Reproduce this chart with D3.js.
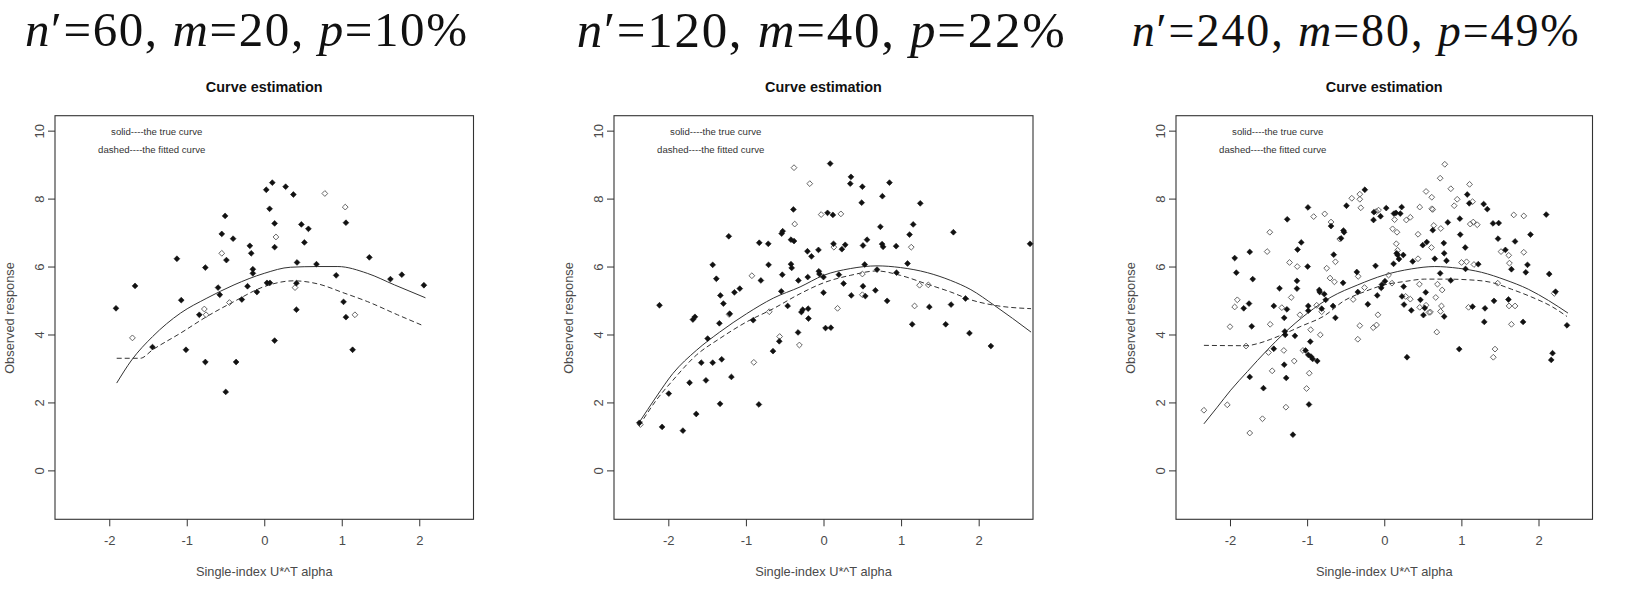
<!DOCTYPE html>
<html><head><meta charset="utf-8">
<script src="https://cdn.jsdelivr.net/npm/d3@7"></script>
<style>
html,body{margin:0;padding:0;background:#fff;}
svg{display:block;}
.bigttl{font-family:"Liberation Serif","DejaVu Serif","Noto Serif","Times New Roman",Times,serif;}
.sans{font-family:"Liberation Sans",Arial,Helvetica,sans-serif;}
</style>
</head><body>
<svg id="chart" width="1642" height="597"></svg>
<script>
// ---------------- DATA ----------------
const panelTitles = [
  {n:"60", m:"20", p:"10%"},
  {n:"120", m:"40", p:"22%"},
  {n:"240", m:"80", p:"49%"}
];
const xTicks = [-2, -1, 0, 1, 2];
const yTicks = [0, 2, 4, 6, 8, 10];
const mainTitle = "Curve estimation";
const xLabel = "Single-index U*^T alpha";
const yLabel = "Observed response";
const legendLines = ["solid----the true curve", "dashed----the fitted curve"];

// Panel 1 (n'=60)
const p1Filled = [[-1.913,4.77],[-1.667,5.43],[-1.442,3.63],[-1.127,6.23],[-1.071,5.01],[-1.010,3.55],[-0.838,4.58],[-0.760,5.97],[-0.760,3.19],[-0.596,5.38],[-0.574,5.17],[-0.548,6.96],[-0.505,7.49],[-0.488,6.19],[-0.497,2.31],[-0.402,6.82],[-0.363,3.19],[-0.289,5.03],[-0.216,5.42],[-0.186,6.61],[-0.168,6.39],[-0.147,5.92],[-0.147,5.80],[-0.095,5.25],[0.026,8.26],[0.035,5.52],[0.069,7.70],[0.073,5.52],[0.104,8.47],[0.134,7.27],[0.134,6.57],[0.134,3.82],[0.276,8.35],[0.376,8.12],[0.423,6.12],[0.415,5.51],[0.415,4.73],[0.479,7.24],[0.518,6.71],[0.570,7.11],[0.674,6.07],[0.928,5.74],[1.023,4.96],[1.054,7.29],[1.054,4.51],[1.140,3.55],[1.356,6.27],[1.628,5.63],[1.775,5.76],[2.060,5.45]];
const p1Open = [[-1.701,3.90],[-0.548,6.39],[-0.773,4.75],[-0.751,4.58],[-0.449,4.94],[0.151,6.87],[0.397,5.38],[0.782,8.15],[1.045,7.75],[1.170,4.58]];
const p1True = [[-1.904,2.57],[-1.71,3.25],[-1.44,3.94],[-1.08,4.63],[-0.74,5.07],[-0.39,5.46],[0,5.80],[0.34,5.98],[0.69,6.00],[0.95,6.00],[1.33,5.80],[1.68,5.46],[2.08,5.08]];
const p1Fit = [[-1.904,3.30],[-1.60,3.30],[-1.44,3.55],[-1.08,4.04],[-0.74,4.53],[-0.39,4.97],[0,5.41],[0.38,5.58],[0.69,5.49],[1.03,5.22],[1.33,4.97],[1.72,4.58],[2.06,4.25]];

// Panel 2 (n'=120)
const p2Filled = [[-2.373,1.40],[-2.114,4.86],[-2.080,1.28],[-1.994,2.26],[-1.812,1.17],[-1.726,2.58],[-1.683,4.44],[-1.657,4.52],[-1.640,1.66],[-1.575,3.17],[-1.515,2.65],[-1.493,3.88],[-1.428,6.05],[-1.428,3.17],[-1.381,5.64],[-1.342,4.33],[-1.329,5.15],[-1.333,1.96],[-1.312,3.27],[-1.290,4.91],[-1.221,6.89],[-1.208,4.61],[-1.187,2.75],[-1.148,5.24],[-1.079,5.35],[-0.906,4.42],[-0.828,6.70],[-0.833,1.94],[-0.807,5.59],[-0.712,6.67],[-0.708,6.05],[-0.651,3.51],[-0.570,3.80],[-0.539,6.97],[-0.526,7.04],[-0.531,5.76],[-0.544,5.27],[-0.462,4.84],[-0.419,6.79],[-0.419,6.07],[-0.410,5.96],[-0.388,7.68],[-0.380,6.75],[-0.328,4.06],[-0.324,5.59],[-0.285,4.66],[-0.268,4.73],[-0.207,6.45],[-0.203,5.69],[-0.198,4.76],[-0.194,4.47],[-0.155,6.30],[-0.065,6.49],[-0.060,5.86],[-0.052,5.78],[0.000,5.69],[0.000,5.23],[0.026,4.19],[0.052,7.58],[0.086,9.03],[0.095,4.20],[0.121,7.52],[0.129,6.67],[0.198,5.76],[0.237,6.51],[0.259,5.50],[0.280,6.64],[0.354,8.64],[0.345,8.44],[0.358,5.15],[0.492,7.88],[0.501,8.35],[0.509,6.62],[0.509,5.42],[0.531,6.06],[0.539,5.13],[0.561,6.79],[0.669,5.30],[0.690,5.91],[0.733,7.17],[0.755,6.66],[0.759,8.07],[0.768,6.58],[0.820,4.99],[0.850,8.47],[0.936,6.60],[0.941,5.82],[1.083,6.09],[1.109,6.94],[1.143,4.30],[1.156,7.24],[1.247,7.86],[1.364,4.81],[1.575,4.30],[1.644,4.88],[1.674,7.01],[1.830,5.06],[1.881,4.04],[2.157,3.66],[2.662,6.67]];
const p2Open = [[-2.360,1.35],[-1.217,4.59],[-0.923,5.73],[-0.898,3.18],[-0.699,4.67],[-0.565,3.94],[-0.380,8.91],[-0.371,7.25],[-0.311,3.69],[-0.177,8.44],[-0.030,7.53],[0.134,6.57],[0.181,4.77],[0.224,7.55],[0.501,5.78],[0.501,5.17],[1.131,6.57],[1.174,4.84],[1.238,5.45],[1.351,5.46]];
const p2True = [[-2.373,1.42],[-2.157,2.16],[-1.942,2.85],[-1.64,3.53],[-1.338,4.07],[-0.992,4.61],[-0.647,5.07],[-0.302,5.40],[0,5.74],[0.345,5.94],[0.690,6.02],[0.992,5.97],[1.338,5.82],[1.640,5.59],[1.899,5.32],[2.2,4.86],[2.675,4.07]];
const p2Fit = [[-2.373,1.32],[-2.157,2.06],[-1.942,2.65],[-1.64,3.39],[-1.338,3.88],[-0.992,4.37],[-0.647,4.76],[-0.302,5.20],[0,5.52],[0.345,5.74],[0.690,5.87],[0.992,5.74],[1.338,5.48],[1.640,5.25],[1.899,5.02],[2.2,4.86],[2.675,4.76]];

// Panel 3 (n'=240)
const p3Filled = [[-1.939,6.25],[-1.918,5.82],[-1.822,4.77],[-1.753,4.91],[-1.744,6.43],[-1.744,2.75],[-1.718,4.24],[-1.705,5.63],[-1.566,2.42],[-1.432,4.84],[-1.432,3.58],[-1.358,5.36],[-1.297,4.49],[-1.297,3.11],[-1.289,4.09],[-1.284,3.99],[-1.271,2.72],[-1.262,4.74],[-1.258,7.39],[-1.184,1.05],[-1.158,3.96],[-1.132,5.58],[-1.132,5.35],[-1.124,6.50],[-1.076,6.71],[-1.020,3.53],[-0.993,6.00],[-0.989,7.74],[-0.985,4.84],[-0.985,4.70],[-0.985,3.40],[-0.976,1.94],[-0.950,3.35],[-0.959,3.79],[-0.928,3.28],[-0.868,3.22],[-0.842,5.31],[-0.837,5.25],[-0.811,4.76],[-0.777,5.19],[-0.759,5.02],[-0.690,7.19],[-0.664,4.84],[-0.655,6.35],[-0.633,4.49],[-0.560,6.83],[-0.534,5.52],[-0.529,7.06],[-0.521,7.01],[-0.490,7.79],[-0.356,5.84],[-0.343,5.25],[-0.252,8.26],[-0.213,4.89],[-0.139,7.37],[-0.134,7.60],[-0.113,6.02],[-0.091,5.15],[-0.048,7.48],[-0.039,5.37],[-0.030,5.47],[0.009,5.57],[0.026,7.72],[0.121,6.08],[0.126,7.56],[0.152,7.58],[0.161,6.39],[0.173,6.34],[0.191,6.22],[0.208,7.56],[0.226,7.75],[0.230,5.12],[0.247,6.34],[0.252,5.41],[0.256,4.88],[0.295,3.33],[0.351,4.71],[0.369,6.15],[0.469,5.02],[0.499,6.63],[0.508,4.57],[0.525,4.78],[0.538,5.24],[0.551,6.72],[0.629,7.07],[0.655,6.23],[0.725,5.80],[0.777,4.53],[0.772,6.69],[0.777,6.39],[0.807,6.17],[0.824,7.30],[0.863,5.59],[0.972,3.57],[0.980,7.41],[0.985,6.94],[1.050,6.56],[1.054,5.93],[1.076,8.12],[1.102,7.86],[1.145,4.82],[1.219,6.07],[1.289,7.84],[1.297,4.37],[1.306,4.77],[1.336,7.69],[1.410,7.27],[1.423,4.99],[1.475,6.82],[1.484,7.28],[1.571,6.49],[1.610,5.03],[1.649,5.92],[1.696,6.74],[1.800,4.37],[1.835,5.83],[1.857,6.05],[1.896,6.94],[2.100,7.53],[2.139,5.78],[2.165,3.25],[2.182,3.45],[2.221,5.26],[2.369,4.27]];
const p3Open = [[-2.338,1.77],[-2.035,1.93],[-2.000,4.23],[-1.939,4.81],[-1.905,5.02],[-1.792,3.66],[-1.744,1.10],[-1.579,1.52],[-1.518,6.44],[-1.484,7.01],[-1.479,4.30],[-1.501,3.47],[-1.453,2.93],[-1.328,4.79],[-1.302,3.53],[-1.275,1.86],[-1.228,6.12],[-1.206,5.09],[-1.167,3.22],[-1.128,6.00],[-1.093,4.58],[-1.054,3.53],[-1.007,2.41],[-0.972,2.86],[-0.954,4.14],[-0.915,7.47],[-0.876,4.86],[-0.829,3.99],[-0.811,4.67],[-0.772,7.55],[-0.746,5.95],[-0.703,5.66],[-0.690,7.31],[-0.646,5.55],[-0.633,6.14],[-0.577,6.81],[-0.403,5.03],[-0.421,8.01],[-0.343,3.86],[-0.338,5.71],[-0.317,8.13],[-0.317,4.26],[-0.304,7.73],[-0.256,5.38],[-0.317,7.98],[-0.143,4.20],[-0.100,4.28],[-0.082,4.58],[-0.104,7.62],[-0.074,7.66],[0.056,5.75],[0.100,5.51],[0.108,7.11],[0.134,7.38],[0.165,7.01],[0.156,6.67],[0.173,6.48],[0.278,5.12],[0.286,7.37],[0.338,5.04],[0.338,7.45],[0.438,6.95],[0.438,6.23],[0.456,5.48],[0.460,7.75],[0.460,4.80],[0.542,8.21],[0.542,4.86],[0.581,4.65],[0.599,4.66],[0.612,6.56],[0.616,8.04],[0.616,7.70],[0.629,7.68],[0.642,7.21],[0.668,5.09],[0.681,4.07],[0.690,5.48],[0.725,8.60],[0.733,7.12],[0.729,4.68],[0.742,4.84],[0.751,5.31],[0.785,9.01],[0.863,8.29],[0.907,7.79],[0.946,7.98],[1.002,6.12],[1.067,6.14],[1.093,4.80],[1.106,8.42],[1.115,7.25],[1.145,7.91],[1.154,7.31],[1.163,6.06],[1.206,7.23],[1.414,3.33],[1.436,3.57],[1.471,5.51],[1.514,6.44],[1.614,6.33],[1.623,6.10],[1.618,4.84],[1.649,4.30],[1.679,7.52],[1.696,4.84],[1.809,7.49],[1.809,6.42],[2.204,5.21]];
const p3True = [[-2.338,1.37],[-2.165,1.86],[-1.991,2.36],[-1.774,2.91],[-1.514,3.55],[-1.297,4.04],[-0.993,4.63],[-0.690,5.10],[-0.343,5.46],[0,5.75],[0.351,5.93],[0.655,6.00],[0.959,5.95],[1.262,5.83],[1.566,5.61],[1.870,5.33],[2.130,5.00],[2.382,4.63]];
const p3Fit = [[-2.338,3.68],[-1.792,3.67],[-1.644,3.73],[-1.471,3.86],[-1.297,4.02],[-1.080,4.24],[-0.777,4.55],[-0.516,5.00],[-0.256,5.26],[0,5.46],[0.265,5.56],[0.525,5.63],[0.785,5.63],[1.089,5.61],[1.393,5.53],[1.653,5.33],[1.913,5.10],[2.174,4.82],[2.369,4.53]];

const panelsData = [
  {filled:p1Filled, open:p1Open, truth:p1True, fit:p1Fit},
  {filled:p2Filled, open:p2Open, truth:p2True, fit:p2Fit},
  {filled:p3Filled, open:p3Open, truth:p3True, fit:p3Fit}
];

// ---------------- LAYOUT ----------------
const layout = [
  {left:55,   right:473.5, titleX:25,    titleW:442, titleSize:49, titleBase:46},
  {left:614,  right:1033,  titleX:576.7, titleW:488, titleSize:51, titleBase:47},
  {left:1176, right:1592.5,titleX:1131.7,titleW:447, titleSize:46, titleBase:46}
];
const plotTop = 115.7, plotBottom = 519.3;
const xDomain = [-2.7, 2.7], yDomain = [-1.44, 10.44];

const svg = d3.select("#chart");
const axisColor = "#333";
const textColor = "#4a4a4a";

function diamondPath(r){ return `M0,${-r}L${r},0L0,${r}L${-r},0Z`; }

panelsData.forEach((pd, i) => {
  const L = layout[i];
  const x = d3.scaleLinear().domain(xDomain).range([L.left, L.right]);
  const y = d3.scaleLinear().domain(yDomain).range([plotBottom, plotTop]);
  const g = svg.append("g");
  const cx = (L.left + L.right) / 2;

  // big serif title
  const t = panelTitles[i];
  const tt = g.append("text").attr("class","bigttl")
    .attr("x", L.titleX).attr("y", L.titleBase)
    .attr("font-size", L.titleSize)
    .attr("fill", "#111")
    .attr("textLength", L.titleW).attr("lengthAdjust", "spacing");
  tt.append("tspan").attr("font-style","italic").text("n");
  tt.append("tspan").text("\u2032=" + t.n + ", ");
  tt.append("tspan").attr("font-style","italic").text("m");
  tt.append("tspan").text("=" + t.m + ", ");
  tt.append("tspan").attr("font-style","italic").text("p");
  tt.append("tspan").text("=" + t.p);

  // main title
  g.append("text").attr("class","sans").attr("x", cx).attr("y", 92)
    .attr("text-anchor","middle")
    .attr("font-weight","bold").attr("font-size",14.4)
    .attr("fill","#111").text(mainTitle);

  // box
  g.append("rect").attr("x", L.left).attr("y", plotTop)
    .attr("width", L.right - L.left).attr("height", plotBottom - plotTop)
    .attr("fill","none").attr("stroke", axisColor).attr("stroke-width", 1.1);

  // x axis
  const xa = g.append("g").attr("transform", `translate(0,${plotBottom})`)
    .call(d3.axisBottom(x).tickValues(xTicks).tickSize(7).tickPadding(9).tickFormat(d3.format("d")));
  xa.select(".domain").remove();
  xa.selectAll("line").attr("stroke", axisColor);
  xa.selectAll("text").attr("class","sans").attr("font-family",null)
    .attr("font-size",13).attr("fill",textColor).text(d => d < 0 ? "-" + Math.abs(d) : d);

  // y axis
  const ya = g.append("g").attr("transform", `translate(${L.left},0)`)
    .call(d3.axisLeft(y).tickValues(yTicks).tickSize(7).tickFormat(d3.format("d")));
  ya.select(".domain").remove();
  ya.selectAll("line").attr("stroke", axisColor);
  ya.selectAll("text").remove();
  ya.selectAll(".tick").append("text").attr("class","sans")
    .attr("transform","translate(-16,0) rotate(-90)")
    .attr("text-anchor","middle").attr("dy","0.35em")
    .attr("font-size",13).attr("fill",textColor)
    .text(d => d);

  // axis labels
  g.append("text").attr("class","sans").attr("x", cx).attr("y", 576)
    .attr("text-anchor","middle")
    .attr("font-size",12.8).attr("fill",textColor).text(xLabel);
  g.append("text").attr("class","sans")
    .attr("transform", `translate(${L.left - 41},${(plotTop+plotBottom)/2 + 0.5}) rotate(-90)`)
    .attr("text-anchor","middle")
    .attr("font-size",12.8).attr("fill",textColor).text(yLabel);

  // legend text
  const legOff = [101.7, 96.7];
  const legY = [135, 152.5];
  legendLines.forEach((s, k) => {
    g.append("text").attr("class","sans").attr("x", L.left + legOff[k]).attr("y", legY[k])
      .attr("text-anchor","middle")
      .attr("font-size",9.6).attr("fill","#333").text(s);
  });

  // curves
  const line = d3.line().x(d => x(d[0])).y(d => y(d[1])).curve(d3.curveMonotoneX);
  g.append("path").datum(pd.truth).attr("d", line)
    .attr("fill","none").attr("stroke","#333").attr("stroke-width",1);
  g.append("path").datum(pd.fit).attr("d", line)
    .attr("fill","none").attr("stroke","#333").attr("stroke-width",1)
    .attr("stroke-dasharray","5,3");

  // points
  g.append("g").selectAll("path").data(pd.open).join("path")
    .attr("transform", d => `translate(${x(d[0])},${y(d[1])})`)
    .attr("d", diamondPath(2.9))
    .attr("fill","none").attr("stroke","#555").attr("stroke-width",0.9);
  g.append("g").selectAll("path").data(pd.filled).join("path")
    .attr("transform", d => `translate(${x(d[0])},${y(d[1])})`)
    .attr("d", diamondPath(2.9))
    .attr("fill","#111").attr("stroke","#111").attr("stroke-width",0.6);
});
</script>
</body></html>
